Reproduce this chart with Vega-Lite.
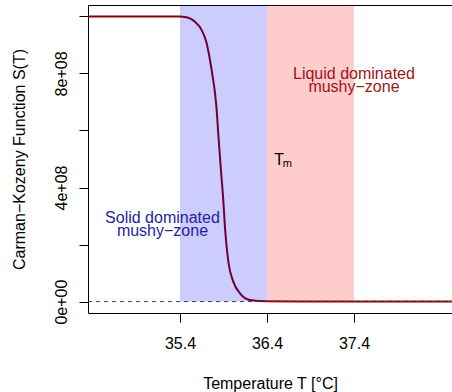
{
  "$schema": "https://vega.github.io/schema/vega-lite/v6.json",
  "width": 364,
  "height": 308,
  "autosize": "none",
  "padding": {"left": 88, "top": 5, "right": 0, "bottom": 79},
  "background": "white",
  "view": {"stroke": "black", "strokeWidth": 1},
  "config": {
    "font": "Liberation Sans",
    "axis": {
      "grid": false,
      "domain": false,
      "tickColor": "black",
      "tickSize": 9,
      "labelColor": "black",
      "labelFont": "Liberation Sans",
      "labelFontSize": 16,
      "titleFont": "Liberation Sans",
      "titleFontSize": 16,
      "titleFontWeight": "normal",
      "titleColor": "black"
    }
  },
  "layer": [
    {
      "data": {
        "values": [
          {"T": 34.343, "S": 1000000000},
          {"T": 35.4, "S": 1000000000},
          {"T": 35.458, "S": 998000000},
          {"T": 35.52, "S": 992000000},
          {"T": 35.573, "S": 981000000},
          {"T": 35.65, "S": 952000000},
          {"T": 35.707, "S": 906000000},
          {"T": 35.745, "S": 847000000},
          {"T": 35.776, "S": 789000000},
          {"T": 35.803, "S": 730000000},
          {"T": 35.822, "S": 672000000},
          {"T": 35.84, "S": 590000000},
          {"T": 35.868, "S": 473000000},
          {"T": 35.898, "S": 356000000},
          {"T": 35.918, "S": 257000000},
          {"T": 35.956, "S": 140000000},
          {"T": 36.013, "S": 70000000},
          {"T": 36.09, "S": 29000000},
          {"T": 36.205, "S": 5600000},
          {"T": 36.397, "S": 1000000},
          {"T": 36.8, "S": 0},
          {"T": 38.527, "S": 0}
        ]
      },
      "mark": {"type": "line", "color": "#8B0000", "strokeWidth": 2, "interpolate": "monotone", "clip": true},
      "encoding": {
        "x": {
          "field": "T",
          "type": "quantitative",
          "scale": {"domain": [34.343, 38.527], "nice": false, "zero": false},
          "axis": {
            "title": "Temperature T [°C]",
            "values": [35.4, 36.4, 37.4],
            "format": ".1f",
            "labelPadding": 13,
            "titlePadding": 24
          }
        },
        "y": {
          "field": "S",
          "type": "quantitative",
          "scale": {"domain": [-40000000, 1040000000], "nice": false, "zero": false},
          "axis": {
            "title": "Carman−Kozeny Function S(T)",
            "values": [0, 200000000, 400000000, 600000000, 800000000, 1000000000],
            "labelExpr": "datum.value == 0 ? '0e+00' : datum.value == 400000000 ? '4e+08' : datum.value == 800000000 ? '8e+08' : ''",
            "labelAngle": 270,
            "labelAlign": "center",
            "labelBaseline": "bottom",
            "labelPadding": 10,
            "titlePadding": 26
          }
        }
      }
    },
    {
      "data": {"values": [{"S": 0}]},
      "mark": {"type": "rule", "color": "#444444", "strokeWidth": 1, "strokeDash": [4, 4]},
      "encoding": {"y": {"field": "S", "type": "quantitative"}}
    },
    {
      "data": {
        "values": [
          {"zone": "solid", "T1": 35.4, "T2": 36.4},
          {"zone": "liquid", "T1": 36.4, "T2": 37.4}
        ]
      },
      "mark": {"type": "rect", "opacity": 0.2, "clip": true},
      "encoding": {
        "x": {"field": "T1", "type": "quantitative"},
        "x2": {"field": "T2"},
        "y": {"datum": 0},
        "y2": {"datum": 1040000000},
        "color": {
          "field": "zone",
          "type": "nominal",
          "scale": {"domain": ["solid", "liquid"], "range": ["#0000FF", "#FF0000"]},
          "legend": null
        }
      }
    },
    {
      "data": {
        "values": [
          {"zone": "solid", "T": 35.199, "S": 276600000, "label": "Solid dominated\nmushy−zone"},
          {"zone": "liquid", "T": 37.4, "S": 780500000, "label": "Liquid dominated\nmushy−zone"}
        ]
      },
      "mark": {"type": "text", "fontSize": 16, "font": "Liberation Sans", "align": "center", "baseline": "alphabetic", "lineBreak": "\n", "lineHeight": 13},
      "encoding": {
        "x": {"field": "T", "type": "quantitative"},
        "y": {"field": "S", "type": "quantitative"},
        "text": {"field": "label"},
        "color": {
          "field": "zone",
          "type": "nominal",
          "scale": {"domain": ["solid", "liquid"], "range": ["#1E1EA0", "#A01414"]},
          "legend": null
        }
      }
    },
    {
      "data": {"values": [{"T": 36.484, "S": 479000000}]},
      "layer": [
        {
          "mark": {"type": "text", "text": "T", "fontSize": 16, "font": "Liberation Sans", "align": "left", "baseline": "alphabetic", "color": "black"},
          "encoding": {"x": {"field": "T", "type": "quantitative"}, "y": {"field": "S", "type": "quantitative"}}
        },
        {
          "mark": {"type": "text", "text": "m", "fontSize": 11, "font": "Liberation Sans", "align": "left", "baseline": "alphabetic", "dx": 8.5, "dy": 2.5, "color": "black"},
          "encoding": {"x": {"field": "T", "type": "quantitative"}, "y": {"field": "S", "type": "quantitative"}}
        }
      ]
    }
  ],
  "resolve": {"scale": {"color": "independent"}}
}
